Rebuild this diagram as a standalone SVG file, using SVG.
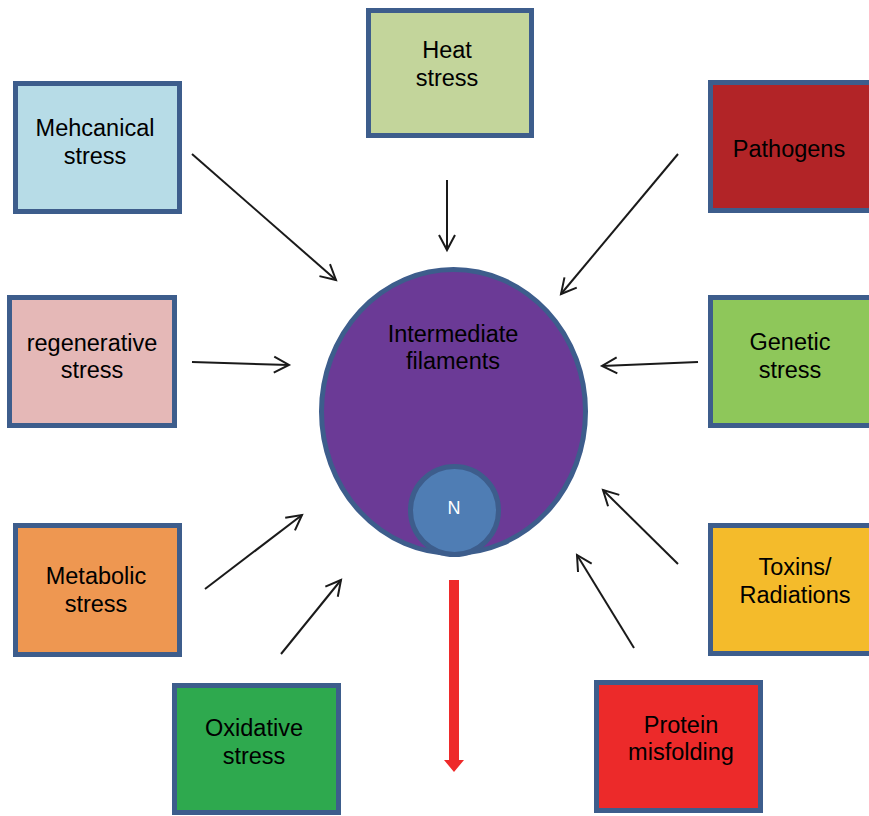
<svg xmlns="http://www.w3.org/2000/svg" width="869" height="816" viewBox="0 0 869 816">
<style>
.box{stroke:#3D5D8C;stroke-width:5}
.t{font-family:"Liberation Sans",Arial,sans-serif;font-size:23.5px;fill:#000;text-anchor:middle}
.c{fill:none;stroke:#1a1a1a;stroke-width:2}
</style>
<defs>
<marker id="open" markerUnits="userSpaceOnUse" markerWidth="20" markerHeight="20" refX="16" refY="10" orient="auto" viewBox="0 0 20 20">
<path d="M1,2 L16,10 L1,18" fill="none" stroke="#1a1a1a" stroke-width="2"/>
</marker>
</defs>
<rect width="869" height="816" fill="#fff"/>
<g id="mechanical"><rect class="box" x="15.5" y="83.5" width="164" height="128" fill="#B7DCE7"/><text class="t" x="95" y="136">Mehcanical</text><text class="t" x="95" y="164">stress</text></g>
<g id="heat"><rect class="box" x="368.5" y="10.5" width="163" height="125" fill="#C3D59B"/><text class="t" x="447" y="58">Heat</text><text class="t" x="447" y="86">stress</text></g>
<g id="pathogens"><rect class="box" x="710.5" y="82.5" width="165" height="128" fill="#B22427"/><text class="t" x="789" y="157">Pathogens</text></g>
<g id="genetic"><rect class="box" x="710.5" y="297.5" width="165" height="128" fill="#8EC75A"/><text class="t" x="790" y="350">Genetic</text><text class="t" x="790" y="378">stress</text></g>
<g id="regenerative"><rect class="box" x="9.5" y="297.5" width="165" height="128" fill="#E5B8B7"/><text class="t" x="92" y="351">regenerative</text><text class="t" x="92" y="378">stress</text></g>
<g id="metabolic"><rect class="box" x="15.5" y="525.5" width="164" height="129" fill="#EE9751"/><text class="t" x="96" y="584">Metabolic</text><text class="t" x="96" y="612">stress</text></g>
<g id="oxidative"><rect class="box" x="174.5" y="685.5" width="164" height="127" fill="#2EA94E"/><text class="t" x="254" y="736">Oxidative</text><text class="t" x="254" y="764">stress</text></g>
<g id="toxins"><rect class="box" x="710.5" y="525.5" width="165" height="128" fill="#F4BB2B"/><text class="t" x="795" y="575">Toxins/</text><text class="t" x="795" y="603">Radiations</text></g>
<g id="protein"><rect class="box" x="596.5" y="682.5" width="164" height="128" fill="#EC2A2A"/><text class="t" x="681" y="733">Protein</text><text class="t" x="681" y="760">misfolding</text></g>
<g id="cell">
<ellipse cx="453.5" cy="411.5" rx="132" ry="142" fill="#6B3A96" stroke="#3D5D8C" stroke-width="5"/>
<text class="t" x="453" y="342">Intermediate</text><text class="t" x="453" y="369">filaments</text>
</g>
<g id="nucleus">
<circle cx="454.5" cy="510.5" r="44" fill="#4F7DB4" stroke="#3D5D8C" stroke-width="5"/>
<text x="454" y="514" font-family="Liberation Sans, Arial, sans-serif" font-size="18" fill="#fff" text-anchor="middle">N</text>
</g>
<g id="connectors">
<line class="c" x1="192" y1="154" x2="336" y2="280" marker-end="url(#open)"/>
<line class="c" x1="447" y1="180" x2="447" y2="250" marker-end="url(#open)"/>
<line class="c" x1="678" y1="154" x2="561" y2="294" marker-end="url(#open)"/>
<line class="c" x1="698" y1="362" x2="602" y2="366" marker-end="url(#open)"/>
<line class="c" x1="192" y1="362" x2="289" y2="365" marker-end="url(#open)"/>
<line class="c" x1="205" y1="589" x2="302" y2="515" marker-end="url(#open)"/>
<line class="c" x1="281" y1="654" x2="341" y2="580" marker-end="url(#open)"/>
<line class="c" x1="678" y1="564" x2="603" y2="490" marker-end="url(#open)"/>
<line class="c" x1="634" y1="648" x2="577" y2="555" marker-end="url(#open)"/>
<path d="M449,580 H459 V760 H464 L454,772 L444,760 H449 Z" fill="#EE2A2A"/>
</g>
</svg>
